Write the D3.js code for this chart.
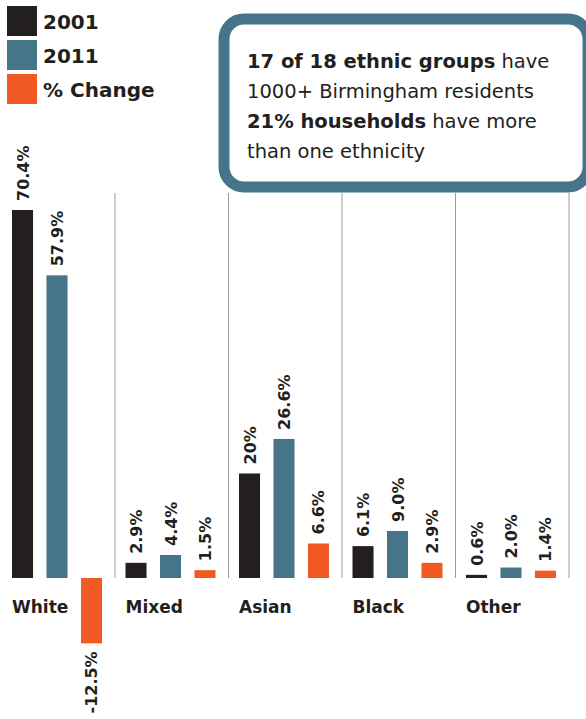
<!DOCTYPE html>
<html>
<head>
<meta charset="utf-8">
<script src="https://cdn.jsdelivr.net/npm/d3@7"></script>
<style>
  html, body { margin: 0; padding: 0; background: #fff; }
  svg { display: block; font-family: "DejaVu Sans", sans-serif; }
</style>
</head>
<body>
<svg width="586" height="719"></svg>
<script>
// data
const categories = ['White', 'Mixed', 'Asian', 'Black', 'Other'];
const seriesNames = ['2001', '2011', '% Change'];
const values2001 = [70.4, 2.9, 20, 6.1, 0.6];
const values2011 = [57.9, 4.4, 26.6, 9.0, 2.0];
const valuesChange = [-12.5, 1.5, 6.6, 2.9, 1.4];
const labels2001 = ['70.4%', '2.9%', '20%', '6.1%', '0.6%'];
const labels2011 = ['57.9%', '4.4%', '26.6%', '9.0%', '2.0%'];
const labelsChange = ['-12.5%', '1.5%', '6.6%', '2.9%', '1.4%'];

const colors = ['#231f20', '#467488', '#f15a24'];

const svg = d3.select('svg');

const baseline = 578;
const x = d3.scaleBand().domain(categories).range([1.5, 569]).padding(0);
const xInner = d3.scaleBand().domain(seriesNames).range([0, 90]).paddingInner(0.39);
const y = d3.scaleLinear().domain([0, 70.4]).range([baseline, 210]);

const rows = [];
categories.forEach((c, i) => {
  rows.push({ cat: c, s: seriesNames[0], v: values2001[i], label: labels2001[i] });
  rows.push({ cat: c, s: seriesNames[1], v: values2011[i], label: labels2011[i] });
  rows.push({ cat: c, s: seriesNames[2], v: valuesChange[i], label: labelsChange[i] });
});
const color = d3.scaleOrdinal().domain(seriesNames).range(colors);
const groupOffset = 10.5;
const barX = d => x(d.cat) + groupOffset + xInner(d.s);

// separators
svg.append('g').selectAll('line').data(categories).enter().append('line')
  .attr('x1', d => x(d) + x.bandwidth())
  .attr('x2', d => x(d) + x.bandwidth())
  .attr('y1', 193).attr('y2', baseline)
  .attr('stroke', '#9a9a9a').attr('stroke-width', 1);

// bars
svg.append('g').selectAll('rect').data(rows).enter().append('rect')
  .attr('x', barX)
  .attr('y', d => Math.min(y(d.v), y(0)))
  .attr('width', xInner.bandwidth())
  .attr('height', d => Math.abs(y(d.v) - y(0)))
  .attr('fill', d => color(d.s));

// value labels, rotated
svg.append('g').selectAll('text').data(rows).enter().append('text')
  .attr('transform', d => {
    const cx = barX(d) + xInner.bandwidth() / 2 + 6;
    const yy = d.v >= 0 ? y(d.v) - 9 : y(d.v) + 8;
    return `translate(${cx},${yy}) rotate(-90)`;
  })
  .attr('text-anchor', d => d.v >= 0 ? 'start' : 'end')
  .attr('font-size', 16)
  .attr('font-weight', 'bold')
  .attr('fill', '#231f20')
  .text(d => d.label);

// category labels
svg.append('g').selectAll('text').data(categories).enter().append('text')
  .attr('x', d => x(d) + groupOffset)
  .attr('y', 613)
  .attr('font-size', 17)
  .attr('font-weight', 'bold')
  .attr('fill', '#231f20')
  .text(d => d);

// legend
const legend = svg.append('g').selectAll('g').data(seriesNames).enter().append('g')
  .attr('transform', (d, i) => `translate(7,${6 + i * 34})`);
legend.append('rect').attr('width', 30).attr('height', 30).attr('fill', d => color(d));
legend.append('text')
  .attr('x', 36).attr('y', 22.5)
  .attr('font-size', 20).attr('font-weight', 'bold').attr('fill', '#231f20')
  .text(d => d);

// info box
svg.append('rect')
  .attr('x', 224).attr('y', 19).attr('width', 364).attr('height', 168)
  .attr('rx', 20).attr('ry', 20)
  .attr('fill', '#fff').attr('stroke', '#467488').attr('stroke-width', 11);

const boxLines = [
  [['17 of 18 ethnic groups', 'bold'], [' have', 'normal']],
  [['1000+ Birmingham residents', 'normal']],
  [['21% households', 'bold'], [' have more', 'normal']],
  [['than one ethnicity', 'normal']]
];
const boxText = svg.append('text')
  .attr('font-size', 19.5).attr('fill', '#231f20');
boxLines.forEach((line, i) => {
  line.forEach(([s, w], j) => {
    const ts = boxText.append('tspan').attr('font-weight', w).text(s);
    if (j === 0) ts.attr('x', 247).attr('y', 67.5 + i * 30);
  });
});
</script>
</body>
</html>
